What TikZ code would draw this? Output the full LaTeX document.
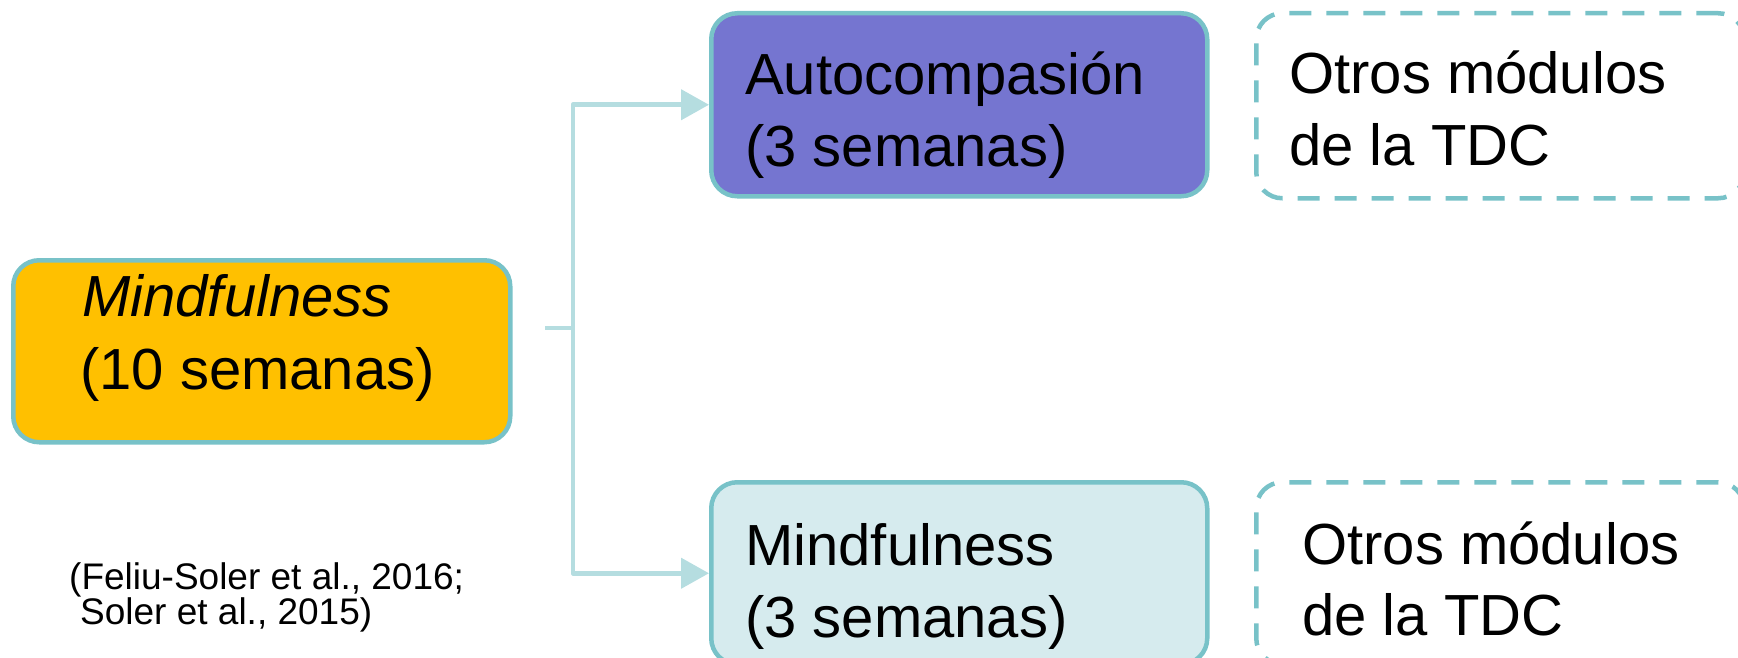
\documentclass[tikz,border=0pt]{standalone}
\usepackage{fontspec}
\setmainfont{Liberation Sans}
\usetikzlibrary{arrows.meta}
\definecolor{tealborder}{RGB}{120,194,200}
\definecolor{connline}{RGB}{181,221,224}
\definecolor{orangefill}{RGB}{255,192,0}
\definecolor{purplefill}{RGB}{117,117,208}
\definecolor{lightfill}{RGB}{214,235,238}
\tikzset{
  boxbase/.style={draw=tealborder, line width=4.5pt, rounded corners=26pt, inner sep=0pt, anchor=north west},
  dashbox/.style={boxbase, dash pattern=on 22pt off 15pt, fill=white},
  bigtext/.style={font=\fontsize{58}{72}\selectfont, inner sep=0pt, anchor=base west},
  cite/.style={font=\fontsize{37}{34}\selectfont, inner sep=0pt, anchor=base west},
  conn/.style={draw=connline, line width=4.5pt},
  connarrow/.style={conn, -{Triangle[length=28pt,width=30pt]}}
}
\begin{document}
\begin{tikzpicture}[x=1pt,y=-1pt]
\useasboundingbox (0,0) rectangle (1738,658);
% boxes
\node[boxbase, fill=orangefill, minimum width=497pt, minimum height=182pt] (left) at (11,258) {};
\node[boxbase, fill=purplefill, minimum width=496pt, minimum height=183pt] (top) at (709,11) {};
\node[boxbase, fill=lightfill, minimum width=496pt, minimum height=182pt] (bot) at (709,480) {};
\node[dashbox, minimum width=488pt, minimum height=185pt] (dtop) at (1254,11) {};
\node[dashbox, minimum width=488pt, minimum height=182pt] (dbot) at (1254,480) {};
% texts
\node[bigtext] (l1) at (82,316) {\itshape Mindfulness};
\node[bigtext] (l2) at (80,389) {(10 semanas)};
\node[bigtext] (t1) at (745,95) {Autocompasión};
\node[bigtext] (t2) at (745,167) {(3 semanas)};
\node[bigtext] (b1) at (745,565) {Mindfulness};
\node[bigtext] (b2) at (745,637) {(3 semanas)};
\node[bigtext] (dt1) at (1289,94) {Otros módulos};
\node[bigtext] (dt2) at (1289,166) {de la TDC};
\node[bigtext] (db1) at (1302,564) {Otros módulos};
\node[bigtext] (db2) at (1302,635) {de la TDC};
\node[cite] (c1) at (69,589) {(Feliu-Soler et al., 2016;};
\node[cite] (c2) at (80,624) {Soler et al., 2015)};
% connectors
\coordinate (stub) at (545,328);
\coordinate (junction) at (573,328);
\draw[conn] (stub) -- (junction);
\draw[connarrow, line join=round] (junction) |- (top.west);
\draw[connarrow, line join=round] (junction) |- (bot.west);
\end{tikzpicture}
\end{document}
